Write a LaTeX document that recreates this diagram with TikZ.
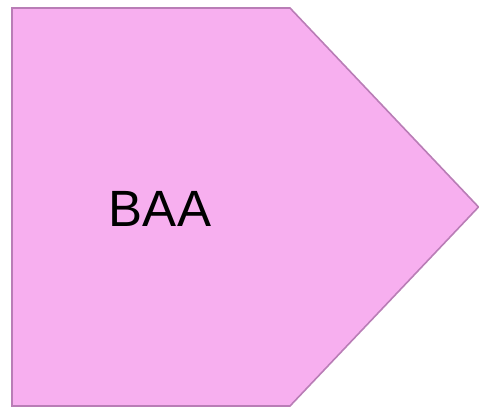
\documentclass[tikz,border=0pt]{standalone}
\usepackage{fontspec}
\setmainfont{Liberation Sans}
\definecolor{shapefill}{RGB}{247,175,239}
\definecolor{shapeline}{RGB}{185,125,182}
\begin{document}
\begin{tikzpicture}[x=1pt,y=1pt,
  pent/.style={draw=shapeline,fill=shapefill,line width=1.6pt,line join=miter},
  lbl/.style={font=\fontsize{51}{60}\selectfont,inner sep=0pt}]
\useasboundingbox (0,0) rectangle (479,408);
\coordinate (tl) at (12,400);
\coordinate (tr) at (290,400);
\coordinate (tip) at (478.5,201);
\coordinate (br) at (290,2);
\coordinate (bl) at (12,2);
\draw[pent] (tl) -- (tr) -- (tip) -- (br) -- (bl) -- cycle;
\node[lbl,anchor=base] (t) at (160,182) {BAA};
\end{tikzpicture}
\end{document}
